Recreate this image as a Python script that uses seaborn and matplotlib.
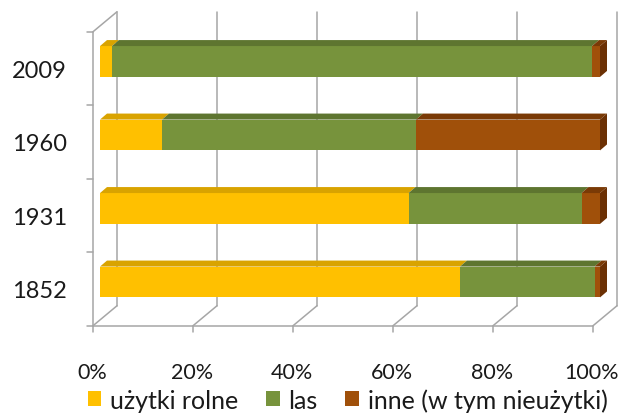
import matplotlib
matplotlib.use('Agg')
import matplotlib.pyplot as plt
import seaborn as sns
import numpy as np
from matplotlib.patches import Patch

# Data (percent of area), top to bottom
years = ['2009', '1960', '1931', '1852']
rolne = [2.4, 12.4, 61.7, 72.0]
las = [96.0, 50.8, 34.6, 26.9]
inne = [1.6, 36.8, 3.7, 1.1]
series_names = ['użytki rolne', 'las', 'inne (w tym nieużytki)']
ticks = [0, 20, 40, 60, 80, 100]

front_cols = ['#FFC000', '#77933C', '#A0500A']
top_cols = ['#D9A300', '#5E7530', '#7A3A06']
side_col = '#6B3004'
grid_col = '#A6A6A6'
text_col = '#1A1A1A'

sns.set_theme(style='white')
plt.rcParams['font.family'] = ['Lato', 'DejaVu Sans']

fig = plt.figure(figsize=(6.23, 4.14), dpi=100)
ax = fig.add_axes([0, 0, 1, 1])

# pixel geometry: 5 px per %, 73.5 px per category
PX = 5.0
PY = 73.5
BAR_H = 0.42
bdx, bdy = 7 / PX, -6 / PY          # bar depth
fdx, fdy = -7 / PX, 7 / PY          # front plane offset from bar front
wdx, wdy = 24 / PX, -20 / PY        # wall depth

# stacked front faces
cum1 = np.array(rolne)
cum2 = cum1 + np.array(las)
cum3 = cum2 + np.array(inne)
for cum, col in zip([cum3, cum2, cum1], front_cols[::-1]):
    sns.barplot(x=cum, y=years, orient='h', color=col, width=BAR_H,
                saturation=1, linewidth=0, ax=ax, zorder=3)

# top faces + right end face
starts = [np.zeros(4), cum1, cum2]
ends = [cum1, cum2, cum3]
for k in range(3):
    for i in range(len(years)):
        s, e = starts[k][i], ends[k][i]
        yt = i - BAR_H / 2
        ax.fill([s, e, e + bdx, s + bdx], [yt, yt, yt + bdy, yt + bdy],
                color=top_cols[k], lw=0, zorder=3)
for i in range(len(years)):
    e = cum3[i]
    yt, yb = i - BAR_H / 2, i + BAR_H / 2
    ax.fill([e, e + bdx, e + bdx, e], [yt, yt + bdy, yb + bdy, yb],
            color=side_col, lw=0, zorder=3)

# 3D frame
y_top = -0.5 + fdy
y_bot = len(years) - 0.5 + fdy
x0 = fdx
lw = 1.1
for v in ticks:
    ax.plot([v + x0 + wdx] * 2, [y_top + wdy, y_bot + wdy], color=grid_col, lw=lw, zorder=1)
    ax.plot([v + x0, v + x0 + wdx], [y_bot, y_bot + wdy], color=grid_col, lw=lw, zorder=1)
    ax.plot([v + x0] * 2, [y_bot, y_bot + 6 / PY], color=grid_col, lw=lw, zorder=1)
ax.plot([x0, 100 + x0], [y_bot, y_bot], color=grid_col, lw=lw, zorder=1)
ax.plot([x0, x0], [y_top, y_bot], color=grid_col, lw=lw, zorder=1)
ax.plot([x0, x0 + wdx], [y_top, y_top + wdy], color=grid_col, lw=lw, zorder=1)
for k in range(len(years) + 1):
    yy = y_top + k
    ax.plot([x0 - 6 / PX, x0], [yy, yy], color=grid_col, lw=lw, zorder=1)

# labels
for i, yr in enumerate(years):
    ax.text(-6.6, i + 0.12, yr, ha='right', va='center', fontsize=17, color=text_col)
for v in ticks:
    ax.text(v + x0 - 0.2, 4.22, f'{v}%', ha='center', va='center', fontsize=15.5, color=text_col)

handles = [Patch(facecolor=c, edgecolor='none') for c in front_cols]
ax.legend(handles, series_names, loc='center', bbox_to_anchor=(0.558, 0.032),
          ncol=3, frameon=False, fontsize=18, handlelength=0.55, handleheight=0.55,
          handletextpad=0.35, columnspacing=1.1, labelcolor=text_col,
          borderpad=0, borderaxespad=0)

ax.set_xlim(-100 / PX, (623 - 100) / PX)
ax.set_ylim((414 - 62.5) / PY, -62.5 / PY)
ax.set_axis_off()

fig.savefig('out.png', dpi=100)
